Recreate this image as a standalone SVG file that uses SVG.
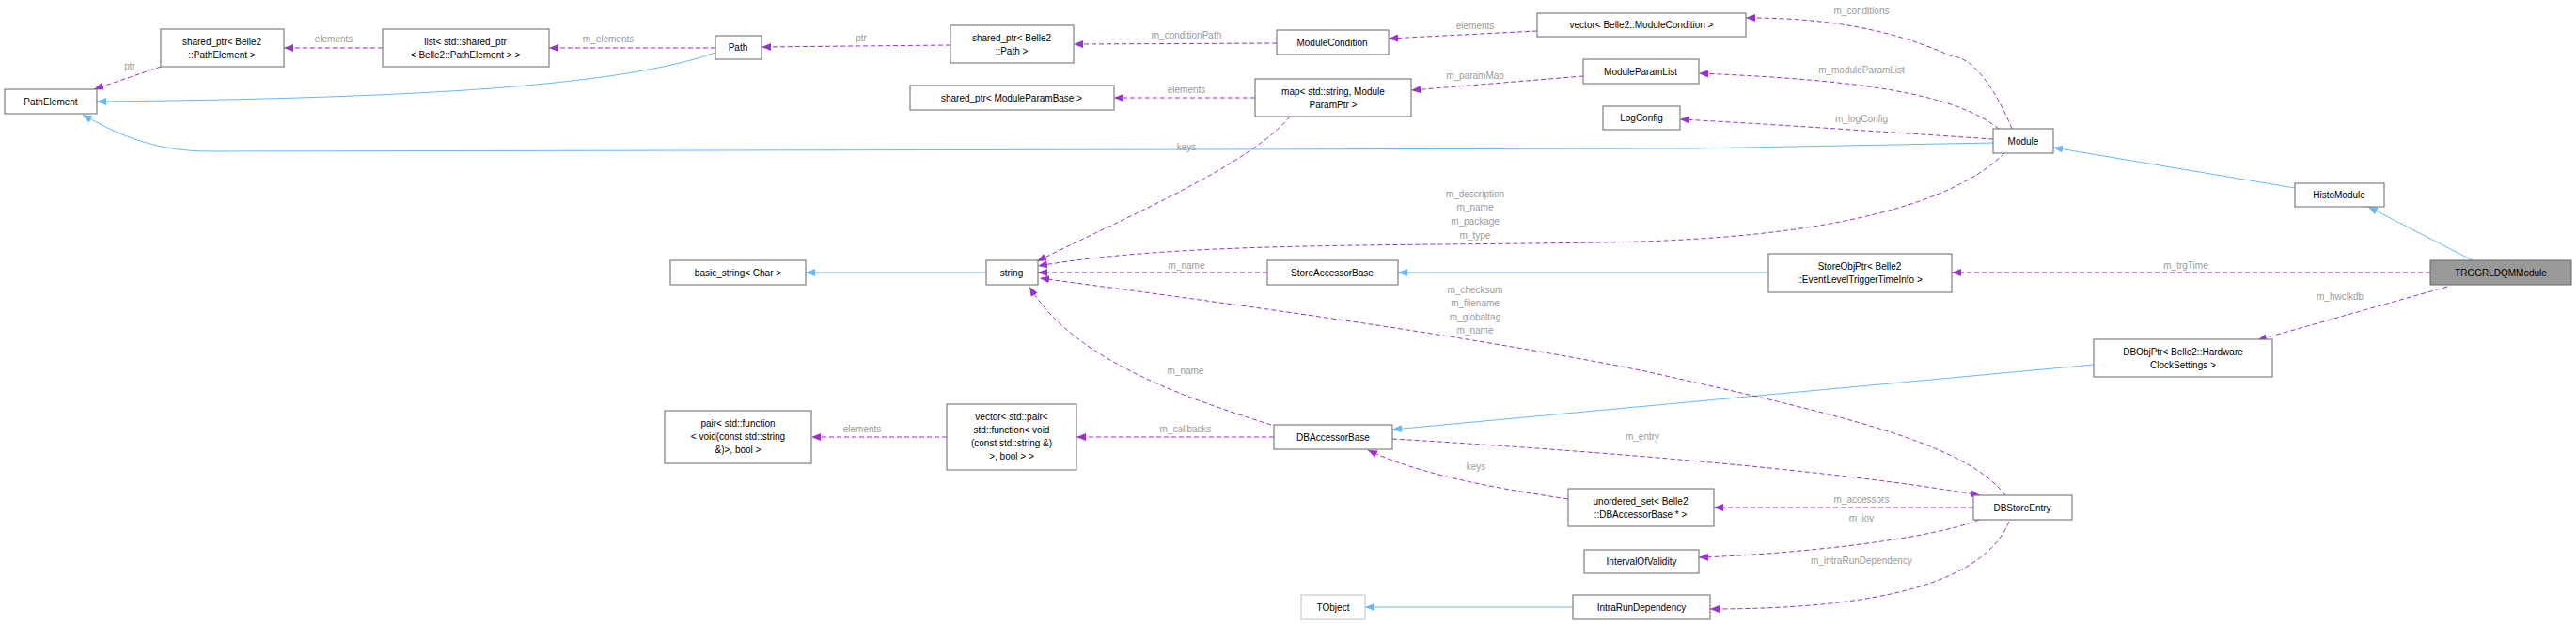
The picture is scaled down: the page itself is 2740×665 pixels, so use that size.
<svg xmlns="http://www.w3.org/2000/svg" width="2740" height="665" viewBox="0 0 2740 665">
<style>
rect{fill:#fff;stroke:#666;stroke-width:1}
text{font-family:"Liberation Sans",Arial,sans-serif;font-size:10px;fill:#000;text-anchor:middle}
.l{fill:#9a9a9a}
.d{fill:none;stroke:#9a32cd;stroke-dasharray:5,3}
.b{fill:none;stroke:#63b8ff}
</style>
<defs>
<marker id="ap" viewBox="0 0 10 10" refX="10" refY="5" markerWidth="10" markerHeight="10" markerUnits="userSpaceOnUse" orient="auto"><path d="M0,1L10,5L0,9z" fill="#9a32cd"/></marker>
<marker id="ab" viewBox="0 0 10 10" refX="10" refY="5" markerWidth="10" markerHeight="10" markerUnits="userSpaceOnUse" orient="auto"><path d="M0,1L10,5L0,9z" fill="#63b8ff"/></marker>
</defs>
<g id="edges">
<path class="d" marker-end="url(#ap)" d="M171,71L100,95"/><text class="l" x="138" y="74">ptr</text>
<path class="d" marker-end="url(#ap)" d="M407,51L302,51"/><text class="l" x="355" y="45">elements</text>
<path class="d" marker-end="url(#ap)" d="M761,51L584,51"/><text class="l" x="647" y="45">m_elements</text>
<path class="b" marker-end="url(#ab)" d="M761,56C650,95 400,105 103,108"/>
<path class="b" marker-end="url(#ab)" d="M2120,152L1800,158L223,161C160,161 120,140 88,122"/>
<path class="d" marker-end="url(#ap)" d="M1011,48L810,50"/><text class="l" x="916" y="44">ptr</text>
<path class="d" marker-end="url(#ap)" d="M1358,46L1142,47"/><text class="l" x="1262" y="41">m_conditionPath</text>
<path class="d" marker-end="url(#ap)" d="M1635,33L1477,41"/><text class="l" x="1569" y="31">elements</text>
<path class="d" marker-end="url(#ap)" d="M2140,137C2125,100 2100,60 2076,60C2000,25 1920,19 1857,19"/><text class="l" x="1980" y="15">m_conditions</text>
<path class="d" marker-end="url(#ap)" d="M2126,137C2080,100 1980,85 1807,78"/><text class="l" x="1980" y="78">m_moduleParamList</text>
<path class="d" marker-end="url(#ap)" d="M2120,148C2000,140 1850,130 1787,127"/><text class="l" x="1980" y="130">m_logConfig</text>
<path class="d" marker-end="url(#ap)" d="M1684,81L1501,96"/><text class="l" x="1569" y="84">m_paramMap</text>
<path class="d" marker-end="url(#ap)" d="M1335,104L1185,104"/><text class="l" x="1262" y="99">elements</text>
<path class="d" marker-end="url(#ap)" d="M1372,124C1330,175 1200,230 1103,278"/><text class="l" x="1262" y="160">keys</text>
<path class="d" marker-end="url(#ap)" d="M2132,163C2080,215 1950,255 1700,258C1450,262 1250,258 1104,283"/>
<text class="l" x="1569" y="210">m_description</text><text class="l" x="1569" y="224">m_name</text><text class="l" x="1569" y="239">m_package</text><text class="l" x="1569" y="254">m_type</text>
<path class="d" marker-end="url(#ap)" d="M1348,290L1104,290"/><text class="l" x="1262" y="286">m_name</text>
<path class="b" marker-end="url(#ab)" d="M1881,290L1487,290"/>
<path class="b" marker-end="url(#ab)" d="M1049,290L857,290"/>
<path class="d" marker-end="url(#ap)" d="M2585,290L2076,290"/><text class="l" x="2325" y="286">m_trgTime</text>
<path class="b" marker-end="url(#ab)" d="M2630,277L2519,220"/>
<path class="b" marker-end="url(#ab)" d="M2441,200L2184,157"/>
<path class="d" marker-end="url(#ap)" d="M2603,305L2401,362"/><text class="l" x="2489" y="319">m_hwclkdb</text>
<path class="b" marker-end="url(#ab)" d="M2227,388L1481,457"/>
<path class="d" marker-end="url(#ap)" d="M2133,527C2090,470 1950,440 1750,395C1550,355 1300,322 1106,296"/>
<text class="l" x="1569" y="312">m_checksum</text><text class="l" x="1569" y="326">m_filename</text><text class="l" x="1569" y="341">m_globaltag</text><text class="l" x="1569" y="355">m_name</text>
<path class="d" marker-end="url(#ap)" d="M1352,452C1250,420 1140,380 1095,305"/><text class="l" x="1261" y="398">m_name</text>
<path class="d" marker-end="url(#ap)" d="M1355,465L1145,465"/><text class="l" x="1261" y="460">m_callbacks</text>
<path class="d" marker-end="url(#ap)" d="M1007,465L863,465"/><text class="l" x="917" y="460">elements</text>
<path class="d" marker-end="url(#ap)" d="M1481,467C1700,480 1950,500 2106,527"/><text class="l" x="1747" y="468">m_entry</text>
<path class="d" marker-end="url(#ap)" d="M1668,531C1560,515 1500,500 1455,479"/><text class="l" x="1570" y="500">keys</text>
<path class="d" marker-end="url(#ap)" d="M2099,540L1823,540"/><text class="l" x="1980" y="535">m_accessors</text>
<path class="d" marker-end="url(#ap)" d="M2105,553C2050,575 1900,590 1807,593"/><text class="l" x="1980" y="555">m_iov</text>
<path class="d" marker-end="url(#ap)" d="M2137,555C2110,620 2000,648 1819,648"/><text class="l" x="1980" y="600">m_intraRunDependency</text>
<path class="b" marker-end="url(#ab)" d="M1673,646L1452,646"/>
</g>
<g id="PathElement"><rect x="5" y="95" width="98" height="26"/><text x="54" y="112">PathElement</text></g>
<g id="sp_pe"><rect x="171" y="31" width="131" height="40"/><text x="236" y="48">shared_ptr&lt; Belle2</text><text x="236" y="62">::PathElement &gt;</text></g>
<g id="list"><rect x="407" y="31" width="177" height="40"/><text x="495" y="48">list&lt; std::shared_ptr</text><text x="495" y="62">&lt; Belle2::PathElement &gt; &gt;</text></g>
<g id="Path"><rect x="761" y="38" width="49" height="25"/><text x="785" y="54">Path</text></g>
<g id="basic_string"><rect x="713" y="277" width="144" height="26"/><text x="785" y="294">basic_string&lt; Char &gt;</text></g>
<g id="sp_path"><rect x="1011" y="27" width="131" height="40"/><text x="1076" y="44">shared_ptr&lt; Belle2</text><text x="1076" y="58">::Path &gt;</text></g>
<g id="ModuleCondition"><rect x="1358" y="32" width="119" height="26"/><text x="1417" y="49">ModuleCondition</text></g>
<g id="vec_mc"><rect x="1635" y="14" width="222" height="25"/><text x="1746" y="30">vector&lt; Belle2::ModuleCondition &gt;</text></g>
<g id="sp_mpb"><rect x="968" y="91" width="217" height="26"/><text x="1076" y="108">shared_ptr&lt; ModuleParamBase &gt;</text></g>
<g id="map"><rect x="1335" y="84" width="166" height="40"/><text x="1418" y="101">map&lt; std::string, Module</text><text x="1418" y="115">ParamPtr &gt;</text></g>
<g id="ModuleParamList"><rect x="1684" y="63" width="123" height="26"/><text x="1745" y="80">ModuleParamList</text></g>
<g id="LogConfig"><rect x="1705" y="113" width="82" height="25"/><text x="1746" y="129">LogConfig</text></g>
<g id="string"><rect x="1049" y="277" width="55" height="26"/><text x="1076" y="294">string</text></g>
<g id="StoreAccessorBase"><rect x="1348" y="277" width="139" height="26"/><text x="1417" y="294">StoreAccessorBase</text></g>
<g id="Module"><rect x="2120" y="137" width="64" height="26"/><text x="2152" y="154">Module</text></g>
<g id="HistoModule"><rect x="2441" y="195" width="95" height="25"/><text x="2488" y="211">HistoModule</text></g>
<g id="TRGGRLDQMModule"><rect x="2585" y="277" width="150" height="26" style="fill:#999"/><text x="2660" y="294">TRGGRLDQMModule</text></g>
<g id="StoreObjPtr"><rect x="1881" y="270" width="195" height="41"/><text x="1978" y="287">StoreObjPtr&lt; Belle2</text><text x="1978" y="301">::EventLevelTriggerTimeInfo &gt;</text></g>
<g id="DBObjPtr"><rect x="2227" y="361" width="190" height="40"/><text x="2322" y="378">DBObjPtr&lt; Belle2::Hardware</text><text x="2322" y="392">ClockSettings &gt;</text></g>
<g id="pair"><rect x="707" y="437" width="156" height="56"/><text x="785" y="454">pair&lt; std::function</text><text x="785" y="468">&lt; void(const std::string</text><text x="785" y="482">&amp;)&gt;, bool &gt;</text></g>
<g id="vec_pair"><rect x="1007" y="430" width="138" height="70"/><text x="1076" y="447">vector&lt; std::pair&lt;</text><text x="1076" y="461">std::function&lt; void</text><text x="1076" y="475">(const std::string &amp;)</text><text x="1076" y="489">&gt;, bool &gt; &gt;</text></g>
<g id="DBAccessorBase"><rect x="1355" y="452" width="126" height="26"/><text x="1418" y="469">DBAccessorBase</text></g>
<g id="unordered_set"><rect x="1668" y="520" width="155" height="40"/><text x="1745" y="537">unordered_set&lt; Belle2</text><text x="1745" y="551">::DBAccessorBase * &gt;</text></g>
<g id="IntervalOfValidity"><rect x="1685" y="585" width="122" height="25"/><text x="1746" y="601">IntervalOfValidity</text></g>
<g id="TObject"><rect x="1384" y="633" width="68" height="26" style="stroke:#bfbfbf"/><text x="1418" y="650">TObject</text></g>
<g id="IntraRunDependency"><rect x="1673" y="633" width="146" height="26"/><text x="1746" y="650">IntraRunDependency</text></g>
<g id="DBStoreEntry"><rect x="2099" y="527" width="105" height="26"/><text x="2151" y="544">DBStoreEntry</text></g>
</svg>
